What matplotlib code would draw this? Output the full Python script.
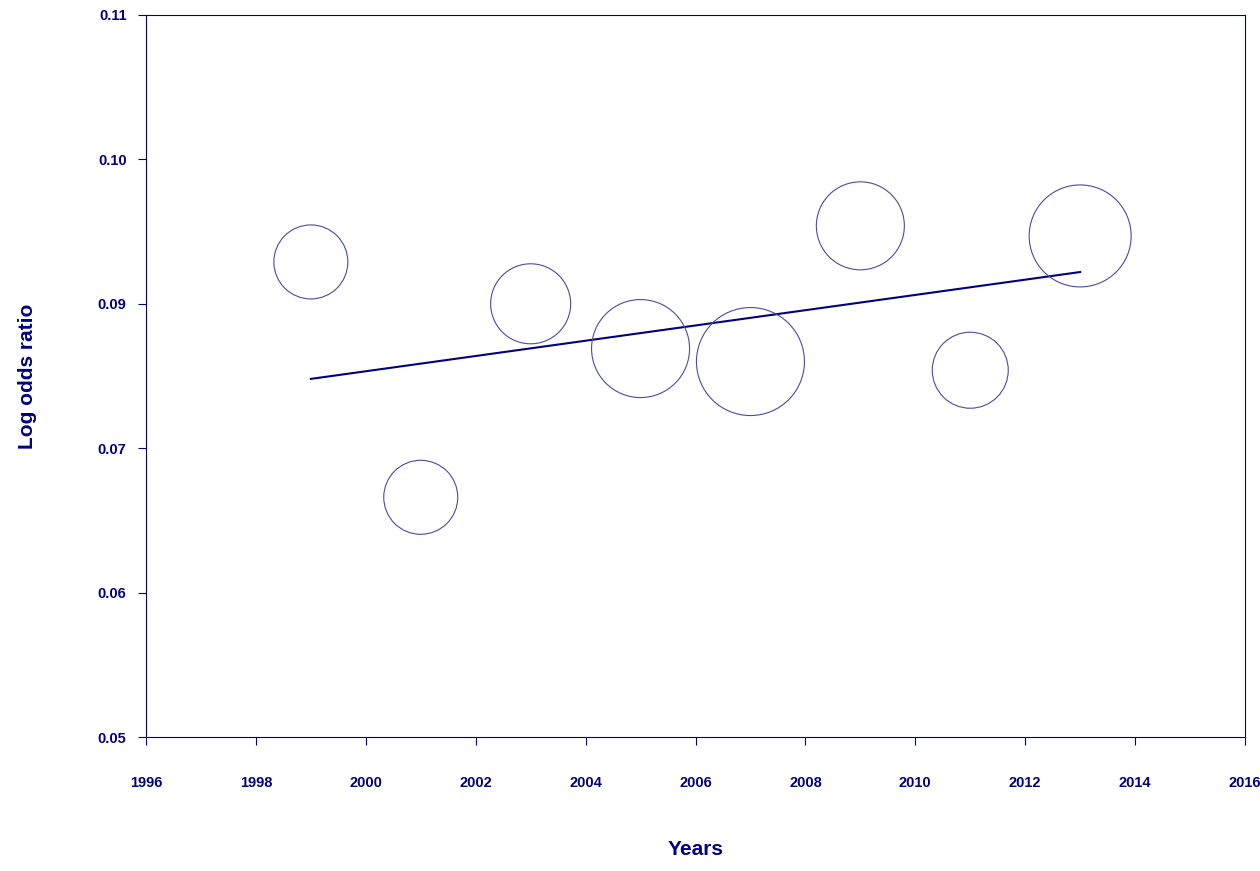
import matplotlib.pyplot as plt

plt.rcParams["font.family"] = ["Liberation Sans", "DejaVu Sans"]

years = [1999, 2001, 2003, 2005, 2007, 2009, 2011, 2013]
log_odds = [0.0829, 0.0666, 0.0800, 0.0769, 0.0760, 0.0854, 0.0754, 0.0847]
radius_px = [37, 37, 40, 49, 54, 44, 38, 51]
fit_x = [1999, 2013]
fit_y = [0.0748, 0.0822]
yticks = [0.05, 0.06, 0.07, 0.08, 0.09, 0.10]
ylabels = ["0.05", "0.06", "0.07", "0.09", "0.10", "0.11"]

navy = "#000080"
fig = plt.figure(figsize=(12.6, 8.71), dpi=100)
ax = fig.add_axes([146/1260, 1-737/871, 1099/1260, 722/871])

sizes = [(2 * r * 0.72) ** 2 for r in radius_px]
ax.scatter(years, log_odds, s=sizes, facecolors="none", edgecolors="#4a4aa8", linewidths=0.8, zorder=3)
ax.plot(fit_x, fit_y, color=navy, lw=1.5)

ax.set_xlim(1996, 2016)
ax.set_ylim(0.05, 0.10)
ax.set_xticks(range(1996, 2017, 2))
ax.set_yticks(yticks)
ax.set_yticklabels(ylabels)
for s in ["top", "right", "left", "bottom"]:
    ax.spines[s].set_color(navy)
ax.tick_params(colors=navy, labelsize=10.5, length=6)
ax.tick_params(axis="x", pad=22)
ax.tick_params(axis="y", pad=8)
for lab in ax.get_xticklabels() + ax.get_yticklabels():
    lab.set_fontweight("bold")
    lab.set_color(navy)
ax.set_xlabel("Years", color=navy, fontsize=15, fontweight="bold", labelpad=36)
ax.set_ylabel("Log odds ratio", color=navy, fontsize=15, fontweight="bold", labelpad=44)

fig.savefig("out.png", dpi=100)
